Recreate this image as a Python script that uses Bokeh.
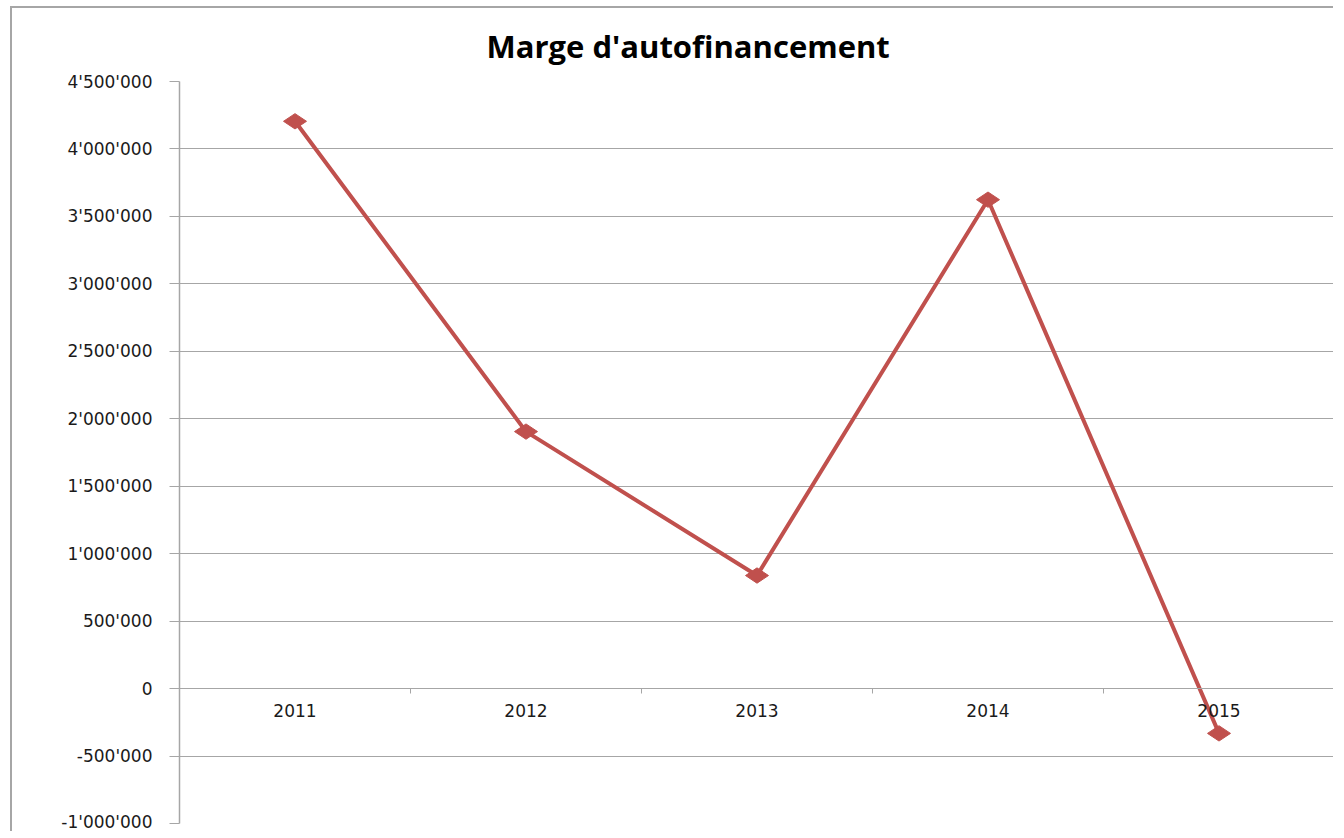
import math
from bokeh.plotting import figure
from bokeh.models import Range1d, LinearAxis, FixedTicker, CustomJSTickFormatter
from bokeh.embed import file_html
from bokeh.resources import INLINE

# ---- data ----
years = ["2011", "2012", "2013", "2014", "2015"]
marge = [4205000, 1905000, 838000, 3624000, -332000]
y_ticks = [-1000000, -500000, 0, 500000, 1000000, 1500000, 2000000,
           2500000, 3000000, 3500000, 4000000, 4500000]
y_tick_labels = ["-1'000'000", "-500'000", "0", "500'000", "1'000'000", "1'500'000",
                 "2'000'000", "2'500'000", "3'000'000", "3'500'000", "4'000'000", "4'500'000"]
title_text = "Marge d'autofinancement"

RED = "#C0504D"
GRID = "#a6a6a6"
FONT = "DejaVu Sans"

# category slots: year i sits in the middle of slot [i, i+1]
xpos = [i + 0.5 for i in range(len(years))]
bounds = list(range(1, len(years) + 1))

p = figure(x_range=Range1d(0, len(years)), y_range=Range1d(y_ticks[0], y_ticks[-1]),
           width=1323, height=825, output_backend="svg", toolbar_location=None,
           x_axis_location=None, min_border_left=167, min_border_right=1,
           min_border_top=73, min_border_bottom=10)
p.outline_line_color = None
p.background_fill_color = "white"
p.border_fill_color = "white"

# title
p.title.text = title_text
p.title.align = "left"
p.title.offset = 307
p.title.standoff = 28
p.title.vertical_align = "middle"
p.title.text_font = "Open Sans"
p.title.text_font_style = "bold"
p.title.text_font_size = "31px"
p.title.text_color = "#000000"

# y axis
ya = p.yaxis[0]
ya.ticker = FixedTicker(ticks=y_ticks)
ya.major_label_overrides = {t: l for t, l in zip(y_ticks, y_tick_labels)}
ya.major_label_text_font = FONT
ya.major_label_text_font_size = "17px"
ya.major_label_text_color = "#1a1a1a"
ya.major_tick_in = 0
ya.major_tick_out = 10
ya.major_tick_line_color = GRID
ya.minor_tick_line_color = None
ya.axis_line_color = GRID
ya.axis_line_width = 1.5
ya.major_label_standoff = 17

p.ygrid.ticker = FixedTicker(ticks=y_ticks)
p.ygrid.grid_line_color = GRID
p.ygrid.grid_line_width = 1
p.xgrid.visible = False

# category labels on the y = 0 line
xa = LinearAxis(fixed_location=0, ticker=FixedTicker(ticks=xpos))
xa.major_label_overrides = {x: y for x, y in zip(xpos, years)}
xa.major_tick_line_color = None
xa.minor_tick_line_color = None
xa.axis_line_color = GRID
xa.major_label_text_font = FONT
xa.major_label_text_font_size = "17px"
xa.major_label_text_color = "#1a1a1a"
xa.major_label_standoff = 9
p.add_layout(xa, "below")

# boundary tick marks on the category axis (no labels)
ta = LinearAxis(fixed_location=0, ticker=FixedTicker(ticks=bounds),
                formatter=CustomJSTickFormatter(code="return ''"))
ta.major_label_standoff = 0
ta.major_tick_in = 0
ta.major_tick_out = 5
ta.major_tick_line_color = GRID
ta.minor_tick_line_color = None
ta.axis_line_color = None
p.add_layout(ta, "below")

# series
p.line(xpos, marge, line_color=RED, line_width=4)
p.scatter(xpos, marge, marker="diamond", size=23, angle=math.pi / 2,
          fill_color=RED, line_color=RED)

p.styles = {"border-left": "2px solid #a6a6a6", "border-top": "2px solid #a6a6a6",
            "margin-left": "10px", "margin-top": "6px"}

open("out.html", "w").write(file_html(p, INLINE))
